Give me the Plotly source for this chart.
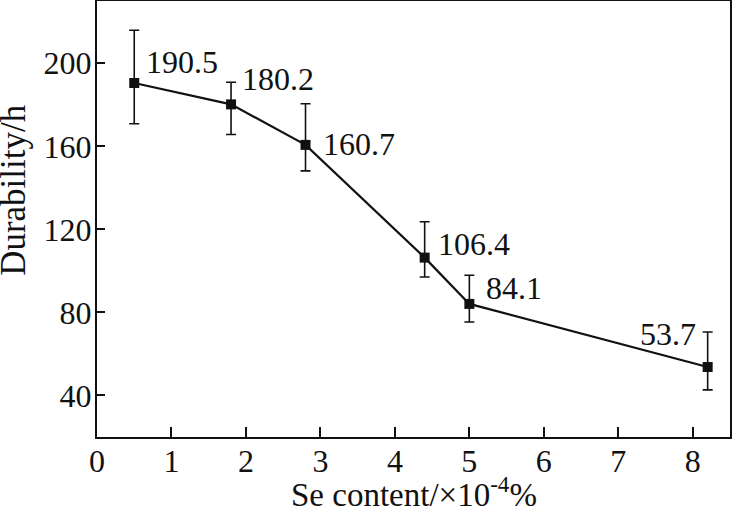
import plotly.graph_objects as go

se_content = [0.5, 1.8, 2.8, 4.4, 5.0, 8.2]
durability = [190.5, 180.2, 160.7, 106.4, 84.1, 53.7]
err_plus = [25.4, 10.7, 19.8, 17.3, 13.8, 16.9]
err_minus = [19.6, 14.5, 12.5, 9.3, 8.7, 11.0]
x_ticks = [0, 1, 2, 3, 4, 5, 6, 7, 8]
y_ticks = [40, 80, 120, 160, 200]

# label placement (pixel offsets, style only)
label_anchor = ["left", "left", "left", "left", "left", "right"]
label_dx = [10, 9, 15, 11, 15, -10]
label_dy = [21, 25, 1, 14, 16, 33]

FONT = "'Liberation Serif', 'Times New Roman', Times, 'DejaVu Serif', serif"

fig = go.Figure()
fig.add_trace(go.Scatter(
    x=se_content, y=durability, mode="lines+markers",
    line=dict(color="#111111", width=2.2),
    marker=dict(symbol="square", size=10, color="#111111"),
    error_y=dict(type="data", symmetric=False, array=err_plus, arrayminus=err_minus,
                 color="#111111", thickness=1.6, width=5),
    showlegend=False,
))

annotations = []
for xv, yv, anc, dx, dy in zip(se_content, durability, label_anchor, label_dx, label_dy):
    annotations.append(dict(
        x=xv, y=yv, xref="x", yref="y", text=f"{yv:.1f}", showarrow=False,
        xanchor=anc, yanchor="middle", xshift=dx, yshift=dy,
        font=dict(family=FONT, size=32, color="#111111"),
    ))
annotations.append(dict(
    x=0.5, y=-0.125, xref="paper", yref="paper",
    text="Se content/×10<sup>-4</sup>%", showarrow=False,
    xanchor="center", yanchor="middle", borderpad=0,
    font=dict(family=FONT, size=33, color="#111111"),
))
annotations.append(dict(
    x=-0.131, y=0.567, xref="paper", yref="paper",
    text="Durability/h", showarrow=False, textangle=-90,
    xanchor="center", yanchor="middle", borderpad=0,
    font=dict(family=FONT, size=35, color="#111111"),
))

fig.update_layout(
    width=732, height=508, autosize=False,
    margin=dict(l=97, r=2, t=1, b=71, pad=0),
    paper_bgcolor="white", plot_bgcolor="white",
    font=dict(family=FONT, size=32, color="#111111"),
    annotations=annotations,
    xaxis=dict(
        range=[0, 8.5], tickvals=x_ticks, ticktext=[str(v) for v in x_ticks],
        ticks="inside", ticklen=10, tickwidth=1.5, tickcolor="#111111",
        showline=True, linewidth=2, linecolor="#111111", mirror=True,
        showgrid=False, zeroline=False, automargin=False, ticklabelstandoff=-5,
        tickfont=dict(family=FONT, size=32, color="#111111"),
    ),
    yaxis=dict(
        range=[20, 230], tickvals=y_ticks, ticktext=[str(v) for v in y_ticks],
        ticks="inside", ticklen=8, tickwidth=1.5, tickcolor="#111111",
        showline=True, linewidth=2, linecolor="#111111", mirror=True,
        showgrid=False, zeroline=False, automargin=False, ticklabelstandoff=-3,
        tickfont=dict(family=FONT, size=32, color="#111111"),
    ),
)

fig.write_html(
    "out.html",
    config={"displayModeBar": False},
    post_script="document.body.style.margin='0';document.body.style.overflow='hidden';",
)
